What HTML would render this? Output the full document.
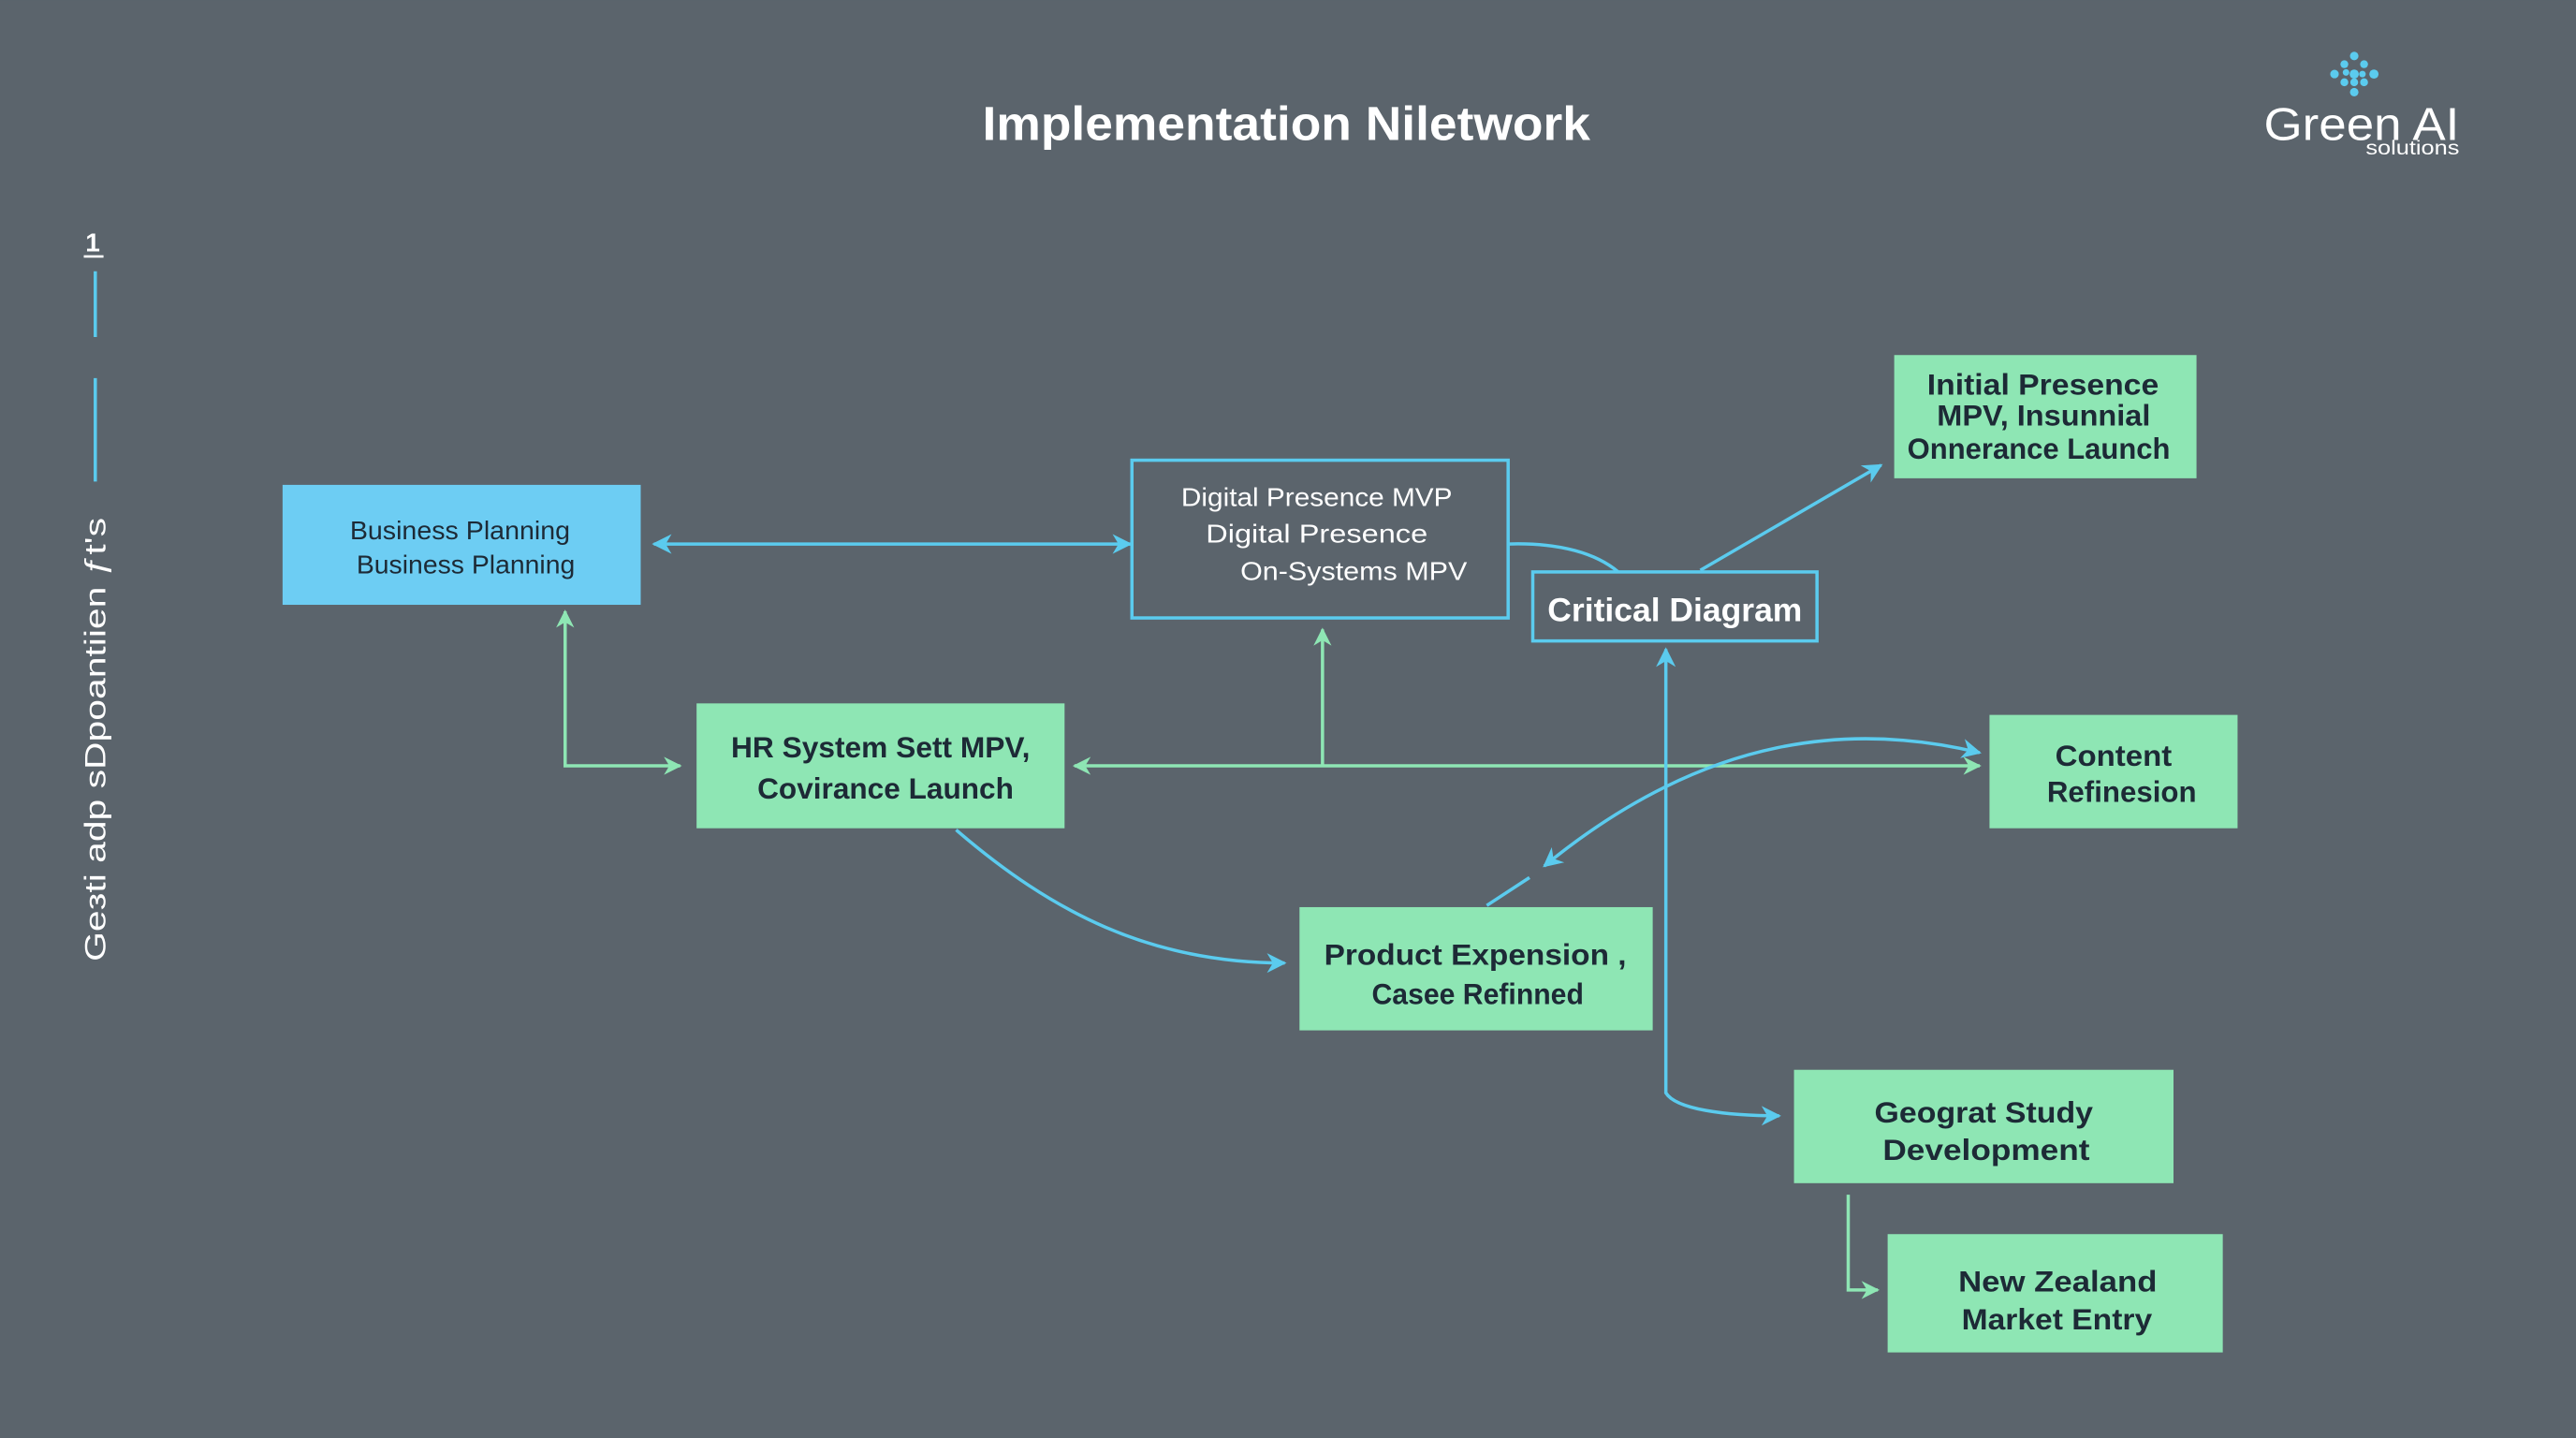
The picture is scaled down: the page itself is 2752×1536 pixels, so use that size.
<!DOCTYPE html>
<html><head><meta charset="utf-8"><style>
html,body{margin:0;padding:0;background:#5b646c;}
svg{display:block;}
text{font-family:"Liberation Sans",sans-serif;}
</style></head><body>
<svg width="2752" height="1536" viewBox="0 0 1568 875" xmlns="http://www.w3.org/2000/svg">
<defs>
<marker id="ab" viewBox="0 0 10 10" refX="9" refY="5" markerWidth="12" markerHeight="12" markerUnits="userSpaceOnUse" orient="auto-start-reverse"><path d="M0,0 L10,5 L0,10 L3,5 z" fill="#5bcbee"/></marker>
<marker id="ag" viewBox="0 0 10 10" refX="9" refY="5" markerWidth="11" markerHeight="11" markerUnits="userSpaceOnUse" orient="auto-start-reverse"><path d="M0,0 L10,5 L0,10 L3,5 z" fill="#8ee6b4"/></marker>
</defs>
<rect width="1568" height="875" fill="#5b646c"/>

<text x="598" y="85" font-size="29" font-weight="bold" fill="#fff" textLength="370" lengthAdjust="spacingAndGlyphs">Implementation Niletwork</text>

<!-- logo -->
<g fill="#5bcbee">
<circle cx="1433" cy="34" r="2.6"/><circle cx="1427" cy="39" r="2.4"/><circle cx="1439" cy="39" r="2.4"/>
<circle cx="1421" cy="45" r="2.6"/><circle cx="1428" cy="44" r="2"/><circle cx="1433" cy="45" r="2.8"/><circle cx="1438" cy="45" r="2"/><circle cx="1445" cy="45" r="2.8"/>
<circle cx="1427" cy="50" r="2.4"/><circle cx="1433" cy="50" r="2.4"/><circle cx="1439" cy="50" r="2.4"/><circle cx="1433" cy="56" r="2.6"/>
</g>
<text x="1378" y="85" font-size="28" fill="#fff" textLength="119" lengthAdjust="spacingAndGlyphs">Green AI</text>
<text x="1440" y="94" font-size="12" fill="#fff" textLength="57" lengthAdjust="spacingAndGlyphs">solutions</text>

<!-- left -->
<text x="52" y="153" font-size="16" font-weight="bold" fill="#fff">1</text>
<line x1="51" y1="156" x2="63" y2="156" stroke="#fff" stroke-width="1.5"/>
<line x1="58" y1="165" x2="58" y2="205" stroke="#5bcbee" stroke-width="2"/>
<line x1="58" y1="230" x2="58" y2="293" stroke="#5bcbee" stroke-width="2"/>
<text transform="translate(64,585) rotate(-90)" font-size="18" fill="#fff" textLength="270" lengthAdjust="spacingAndGlyphs">Geзti adp sDpoantiien  ƒt's</text>

<!-- connectors -->
<g fill="none" stroke-width="2">
<line x1="398" y1="331" x2="688" y2="331" stroke="#5bcbee" marker-start="url(#ab)" marker-end="url(#ab)"/>
<path d="M344,372 L344,466 L414,466" stroke="#8ee6b4" marker-start="url(#ag)" marker-end="url(#ag)"/>
<line x1="654" y1="466" x2="1205" y2="466" stroke="#8ee6b4" marker-start="url(#ag)" marker-end="url(#ag)"/>
<line x1="805" y1="466" x2="805" y2="383" stroke="#8ee6b4" marker-end="url(#ag)"/>
<path d="M918,331 C950,330 972,337 985,348" stroke="#5bcbee"/>
<line x1="1035" y1="347" x2="1145" y2="283" stroke="#5bcbee" marker-end="url(#ab)"/>
<path d="M1014,395 L1014,665 C1020,675 1050,679 1083,679" stroke="#5bcbee" marker-start="url(#ab)" marker-end="url(#ab)"/>
<path d="M1205,458 C1130,440 1040,445 940,527" stroke="#5bcbee" marker-start="url(#ab)" marker-end="url(#ab)"/>
<line x1="931" y1="534" x2="905" y2="551" stroke="#5bcbee"/>
<path d="M582,505 C640,555 700,586 782,586" stroke="#5bcbee" marker-end="url(#ab)"/>
<path d="M1125,727 L1125,785 L1143,785" stroke="#8ee6b4" marker-end="url(#ag)"/>
</g>

<!-- nodes -->
<rect x="172" y="295" width="218" height="73" fill="#6dcdf3"/>
<text x="213" y="328" font-size="16" fill="#1d2a36" textLength="134" lengthAdjust="spacingAndGlyphs">Business Planning</text>
<text x="217" y="349" font-size="16" fill="#1d2a36" textLength="133" lengthAdjust="spacingAndGlyphs">Business Planning</text>

<rect x="689" y="280" width="229" height="96" fill="none" stroke="#5bcbee" stroke-width="2"/>
<text x="719" y="308" font-size="16" fill="#fff" textLength="165" lengthAdjust="spacingAndGlyphs">Digital Presence MVP</text>
<text x="734" y="330" font-size="16" fill="#fff" textLength="135" lengthAdjust="spacingAndGlyphs">Digital Presence</text>
<text x="755" y="353" font-size="16" fill="#fff" textLength="138" lengthAdjust="spacingAndGlyphs">On-Systems MPV</text>

<rect x="933" y="348" width="173" height="42" fill="#5b646c" stroke="#5bcbee" stroke-width="2"/>
<text x="942" y="378" font-size="20" font-weight="bold" fill="#fff" textLength="155" lengthAdjust="spacingAndGlyphs">Critical Diagram</text>

<g fill="#8ee6b4">
<rect x="1153" y="216" width="184" height="75"/>
<rect x="424" y="428" width="224" height="76"/>
<rect x="1211" y="435" width="151" height="69"/>
<rect x="791" y="552" width="215" height="75"/>
<rect x="1092" y="651" width="231" height="69"/>
<rect x="1149" y="751" width="204" height="72"/>
</g>
<g font-size="18" font-weight="bold" fill="#1d2a36" lengthAdjust="spacingAndGlyphs">
<text x="1173" y="240" textLength="141" lengthAdjust="spacingAndGlyphs">Initial Presence</text>
<text x="1179" y="259" textLength="130" lengthAdjust="spacingAndGlyphs">MPV, Insunnial</text>
<text x="1161" y="279" textLength="160" lengthAdjust="spacingAndGlyphs">Onnerance Launch</text>
<text x="445" y="461" textLength="182" lengthAdjust="spacingAndGlyphs">HR System Sett MPV,</text>
<text x="461" y="486" textLength="156" lengthAdjust="spacingAndGlyphs">Covirance Launch</text>
<text x="1251" y="466" textLength="71" lengthAdjust="spacingAndGlyphs">Content</text>
<text x="1246" y="488" textLength="91" lengthAdjust="spacingAndGlyphs">Refinesion</text>
<text x="806" y="587" textLength="184" lengthAdjust="spacingAndGlyphs">Product Expension ,</text>
<text x="835" y="611" textLength="129" lengthAdjust="spacingAndGlyphs">Casee Refinned</text>
<text x="1141" y="683" textLength="133" lengthAdjust="spacingAndGlyphs">Geograt Study</text>
<text x="1146" y="706" textLength="126" lengthAdjust="spacingAndGlyphs">Development</text>
<text x="1192" y="786" textLength="121" lengthAdjust="spacingAndGlyphs">New Zealand</text>
<text x="1194" y="809" textLength="116" lengthAdjust="spacingAndGlyphs">Market Entry</text>
</g>
</svg>
</body></html>
